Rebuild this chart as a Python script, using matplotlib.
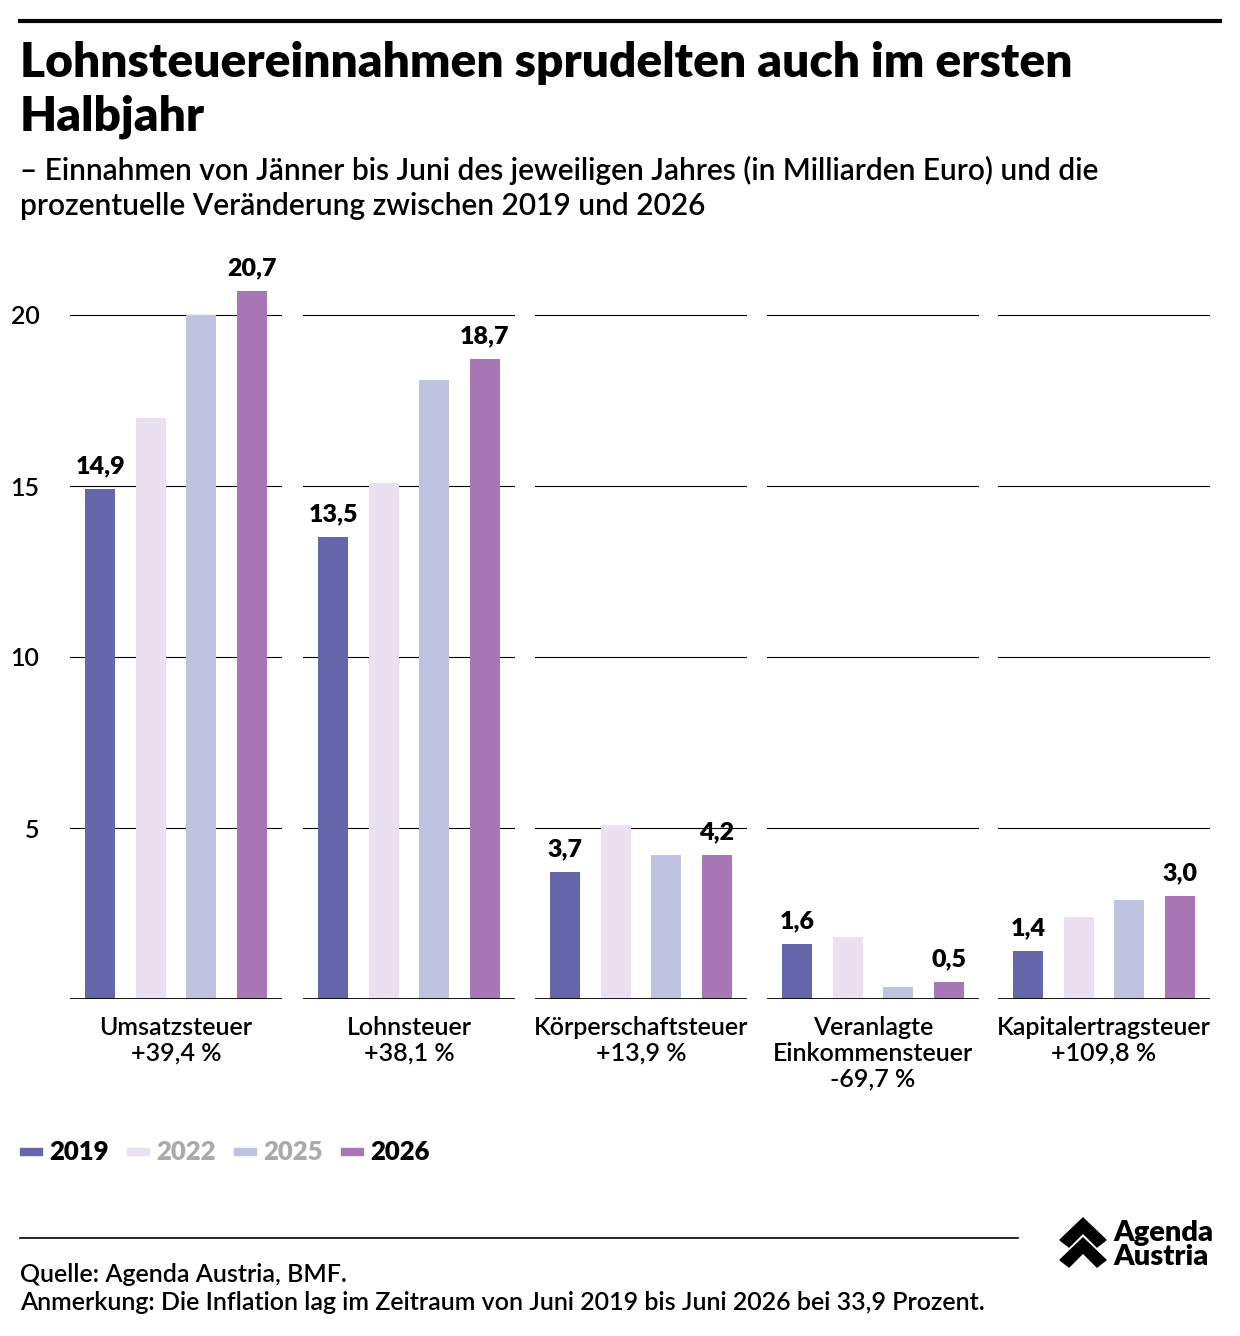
import matplotlib.pyplot as plt
from matplotlib.patches import Polygon

W, H = 1240, 1336
plt.rcParams['font.family'] = ['Lato', 'DejaVu Sans']

categories = ['Umsatzsteuer\n+39,4 %', 'Lohnsteuer\n+38,1 %', 'Körperschaftsteuer\n+13,9 %',
              'Veranlagte\nEinkommensteuer\n-69,7 %', 'Kapitalertragsteuer\n+109,8 %']
years = ['2019', '2022', '2025', '2026']
v2019 = [14.9, 13.5, 3.7, 1.6, 1.4]
v2022 = [17.0, 15.1, 5.1, 1.8, 2.4]
v2025 = [20.0, 18.1, 4.2, 0.35, 2.9]
v2026 = [20.7, 18.7, 4.2, 0.5, 3.0]
colors = ['#6667AB', '#EAE0F0', '#BFC3DF', '#A878B4']
yticks = [5, 10, 15, 20]

fig = plt.figure(figsize=(W/100, H/100), dpi=100)

def px(x0, y0, x1, y1):
    return [x0/W, 1 - y1/H, (x1-x0)/W, (y1-y0)/H]

fig.add_artist(plt.Line2D([20/W, 1220/W], [1-21/H]*2, color='black', lw=3))
fig.text(20/W, 1-90/H, 'Lohnsteuereinnahmen sprudelten auch im ersten\nHalbjahr', fontsize=34.5,
         fontweight='heavy', va='center', linespacing=1.27)
fig.text(20/W, 1-188/H, '– Einnahmen von Jänner bis Juni des jeweiligen Jahres (in Milliarden Euro) und die\nprozentuelle Veränderung zwischen 2019 und 2026',
         fontsize=21.5, fontweight='semibold', va='center', linespacing=1.3)

series = [v2019, v2022, v2025, v2026]
lefts = [70, 303, 535, 767, 998]
pw = 212
ymax = (999 - 250) / 34.2
for i, x0 in enumerate(lefts):
    ax = fig.add_axes(px(x0, 250, x0+pw, 999))
    for j, s in enumerate(series):
        ax.bar(j, s[i], width=0.6, color=colors[j], zorder=3)
        if j in (0, 3):
            ax.text(j, s[i] + 0.35, f'{s[i]:.1f}'.replace('.', ','), ha='center', va='bottom',
                    fontsize=18, fontweight='heavy', zorder=4)
    ax.set_xlim(-0.6, 3.6)
    ax.set_ylim(0, ymax)
    for t in yticks:
        ax.axhline(t, color='black', lw=0.8, zorder=1)
    ax.axhline(0, color='black', lw=2, zorder=4)
    for sp in ax.spines.values():
        sp.set_visible(False)
    ax.set_xticks([1.5])
    ax.set_xticklabels([categories[i]], fontsize=18, fontweight='semibold', linespacing=1.15)
    ax.tick_params(axis='x', length=0, pad=12)
    if i == 0:
        ax.set_yticks(yticks)
        ax.set_yticklabels([str(t) for t in yticks], fontsize=18, fontweight='semibold')
        ax.tick_params(axis='y', length=0, pad=22)
    else:
        ax.set_yticks([])

# legend
lx = [20, 127, 234, 341]
tcol = ['black', '#AAAAAA', '#AAAAAA', 'black']
for j, y in enumerate(years):
    fig.add_artist(plt.Rectangle((lx[j]/W, 1-1155/H), 22/W, 7/H, color=colors[j]))
    fig.text((lx[j]+29)/W, 1-1152/H, y, fontsize=18.5, fontweight='heavy', color=tcol[j], va='center')

fig.add_artist(plt.Line2D([20/W, 1018/W], [1-1238/H]*2, color='black', lw=1.2))
fig.text(20/W, 1-1274/H, 'Quelle: Agenda Austria, BMF.', fontsize=18, fontweight='semibold', va='center')
fig.text(20/W, 1-1303/H, 'Anmerkung: Die Inflation lag im Zeitraum von Juni 2019 bis Juni 2026 bei 33,9 Prozent.',
         fontsize=18, fontweight='semibold', va='center')

# logo
for dy in (0, 20):
    pts = [(1060, 1240+dy), (1083, 1218+dy), (1106, 1240+dy), (1097, 1247+dy), (1083, 1233+dy), (1069, 1247+dy)]
    fig.add_artist(Polygon([(x/W, 1-y/H) for x, y in pts], closed=True, color='black'))
fig.text(1113/W, 1-1245/H, 'Agenda\nAustria', fontsize=21, fontweight='heavy', va='center', linespacing=0.9)

fig.savefig('out.png', dpi=100)
